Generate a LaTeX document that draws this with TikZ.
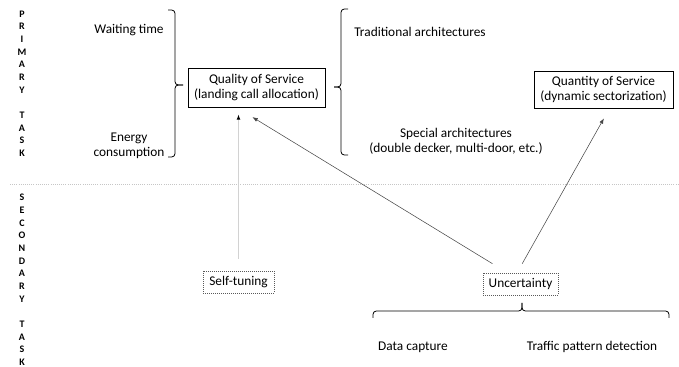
\documentclass[tikz,border=0pt]{standalone}
\usepackage{fontspec}
\setmainfont{Carlito}
\usetikzlibrary{arrows.meta}
\tikzset{
    taskletters/.style = {align=center, inner sep=0pt, font=\fontsize{7.5}{9.5}\selectfont\bfseries},
    mytext/.style = {align=center, inner sep=0pt, font=\fontsize{10}{11.5}\selectfont},
    mybox/.style = {rectangle, draw=black, line width=0.6pt, align=center, inner sep=0pt, font=\fontsize{10}{11.5}\selectfont},
    mydotbox/.style = {rectangle, draw=gray!70!black, densely dotted, line width=0.5pt, align=center, inner sep=0pt, font=\fontsize{10}{11.5}\selectfont},
    bracen/.style = {line width=0.6pt, rounded corners=2.5pt},
    edgen/.style = {-{Latex[length=4pt,width=3pt]}, line width=0.4pt, draw=gray!55!black},
    edgeg/.style = {-{Latex[length=4pt,width=3pt,color=black]}, line width=1.3pt, draw=gray!35},
    sepline/.style = {draw=gray!45, densely dotted, line width=0.6pt}
}
\begin{document}
\begin{tikzpicture}[x=0.75pt, y=-0.75pt]
  \useasboundingbox (0,0) rectangle (679,367);

  % task labels on the left
  \node[taskletters] at (22,83.5) (primary) {P\\R\\I\\M\\A\\R\\Y\\[9.5pt]T\\A\\S\\K};
  \node[taskletters] at (22,280) (secondary) {S\\E\\C\\O\\N\\D\\A\\R\\Y\\[9.5pt]T\\A\\S\\K};

  \draw[sepline] (10,184) -- (679,184);

  % primary task
  \node[mytext] at (129,30) (wait) {Waiting time};
  \node[mytext] at (129,146) (energy) {Energy\\consumption};
  \draw[bracen] (168,10) -- (175,10) -- (175,85) -- (183,85);
  \draw[bracen] (168,157) -- (175,157) -- (175,85) -- (183,85);

  \node[mybox, minimum width=102.75pt, minimum height=29.25pt] at (256.5,87.5) (qos) {Quality of Service\\(landing call allocation)};
  \draw[bracen] (348,9) -- (341,9) -- (341,87) -- (334,87);
  \draw[bracen] (348,155) -- (341,155) -- (341,87) -- (334,87);

  \node[mytext] at (420,32) (trad) {Traditional architectures};
  \node[mytext] at (456,141) (special) {Special architectures\\(double decker, multi-door, etc.)};

  \node[mybox, minimum width=104.25pt, minimum height=27.75pt] at (603.5,89.5) (qty) {Quantity of Service\\(dynamic sectorization)};

  % secondary task
  \node[mydotbox, minimum width=53.25pt, minimum height=16.5pt] at (238.5,282) (self) {Self-tuning};
  \node[mydotbox, minimum width=56.25pt, minimum height=16.5pt] at (520.5,284) (unc) {Uncertainty};
  \draw[bracen] (373,318) -- (373,311) -- (522,311) -- (522,303);
  \draw[bracen] (669,318) -- (669,311) -- (522,311) -- (522,303);

  \node[mytext] at (413,347) (data) {Data capture};
  \node[mytext] at (592,347) (traffic) {Traffic pattern detection};

  \draw[edgeg, shorten <=9pt, shorten >=5.25pt] (self.north) -- (self.north |- qos.south);
  \draw[edgen, shorten <=13pt, shorten >=14pt] ([xshift=-10pt]unc.north) -- ([xshift=-15pt]qos.south);
  \draw[edgen, shorten <=7.7pt, shorten >=8.6pt] ([xshift=-2.5pt]unc.north) -- ([xshift=4.5pt]qty.south);
\end{tikzpicture}
\end{document}
